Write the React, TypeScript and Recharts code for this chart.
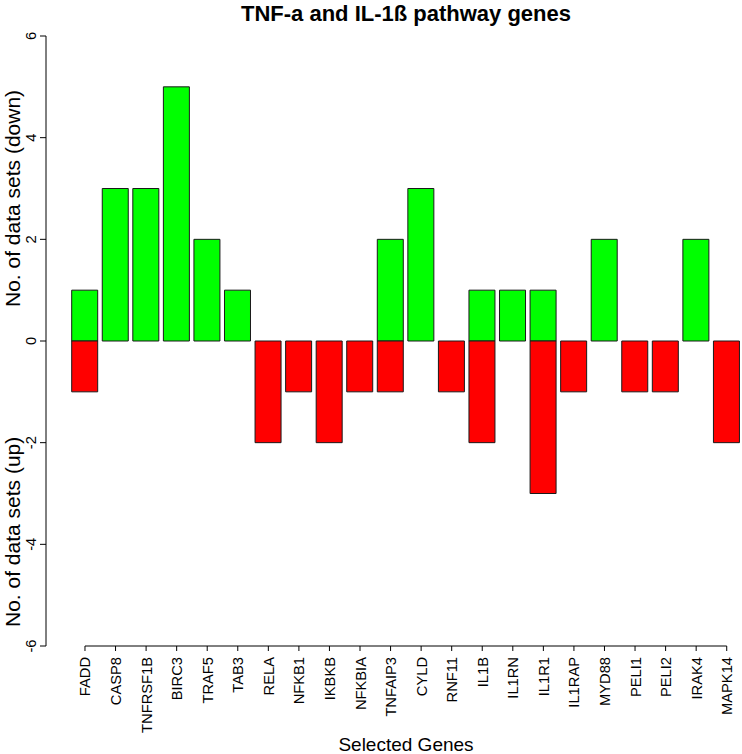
import { BarChart, Bar, XAxis, YAxis, ReferenceLine } from 'recharts';

const genes = [
  'FADD', 'CASP8', 'TNFRSF1B', 'BIRC3', 'TRAF5', 'TAB3', 'RELA', 'NFKB1', 'IKBKB', 'NFKBIA', 'TNFAIP3',
  'CYLD', 'RNF11', 'IL1B', 'IL1RN', 'IL1R1', 'IL1RAP', 'MYD88', 'PELI1', 'PELI2', 'IRAK4', 'MAPK14',
];
// data sets where the gene goes down (drawn above zero)
const downCounts = [1, 3, 3, 5, 2, 1, 0, 0, 0, 0, 2, 3, 0, 1, 1, 1, 0, 2, 0, 0, 2, 0];
// data sets where the gene goes up (drawn below zero)
const upCounts = [-1, 0, 0, 0, 0, 0, -2, -1, -2, -1, -1, 0, -1, -2, 0, -3, -1, 0, -1, -1, 0, -2];
const yTicks = [-6, -4, -2, 0, 2, 4, 6];

const data = genes.map((gene, i) => ({ gene, down: downCounts[i], up: upCounts[i] }));

const FONT = '"Liberation Sans", Arial, Helvetica, sans-serif';

const GeneTick = ({ x, y, payload }: any) => (
  <text
    x={x}
    y={y + 4}
    dy={5.5}
    transform={`rotate(-90, ${x}, ${y + 4})`}
    textAnchor="end"
    fontSize={14.7}
    fontFamily={FONT}
    fill="#000"
  >
    {payload.value}
  </text>
);

const CountTick = ({ y, payload }: any) => (
  <text
    x={36}
    y={y}
    transform={`rotate(-90, 36, ${y})`}
    textAnchor="middle"
    fontSize={14.7}
    fontFamily={FONT}
    fill="#000"
  >
    {payload.value}
  </text>
);

const App = () => {
  return (
    <div style={{ position: 'absolute', top: 0, left: 0, width: 742, height: 754, background: '#fff' }}>
      <BarChart
        width={742}
        height={754}
        data={data}
        stackOffset="sign"
        margin={{ top: 36, right: 0, left: 0, bottom: 0 }}
      >
        <XAxis
          dataKey="gene"
          interval={0}
          height={108}
          axisLine={false}
          tickLine={{ stroke: '#000' }}
          tickSize={5}
          padding={{ left: 23.7, right: 0 }}
          tick={<GeneTick />}
        />
        <YAxis
          domain={[-6, 6]}
          ticks={yTicks}
          width={46}
          tickSize={6}
          axisLine={{ stroke: '#000' }}
          tickLine={{ stroke: '#000' }}
          tick={<CountTick />}
        />
        <ReferenceLine
          segment={[{ x: 'FADD', y: -6 }, { x: 'MAPK14', y: -6 }]}
          stroke="#000"
        />
        <Bar dataKey="down" stackId="a" fill="#00ff00" stroke="#1a1a1a" barSize={26} isAnimationActive={false} />
        <Bar dataKey="up" stackId="a" fill="#ff0000" stroke="#1a1a1a" barSize={26} isAnimationActive={false} />
      </BarChart>
      <svg
        width={742}
        height={754}
        style={{ position: 'absolute', top: 0, left: 0, pointerEvents: 'none' }}
        fontFamily={FONT}
      >
        <text x={406} y={21} textAnchor="middle" fontSize={22} fontWeight="bold" fill="#000">
          TNF-a and IL-1ß pathway genes
        </text>
        <text x={20} y={307} transform="rotate(-90, 20, 307)" textAnchor="start" fontSize={21} fill="#000">
          No. of data sets (down)
        </text>
        <text x={20} y={627} transform="rotate(-90, 20, 627)" textAnchor="start" fontSize={21} fill="#000">
          No. of data sets (up)
        </text>
        <text x={406} y={751} textAnchor="middle" fontSize={19} fill="#000">
          Selected Genes
        </text>
      </svg>
    </div>
  );
};

export default App;
